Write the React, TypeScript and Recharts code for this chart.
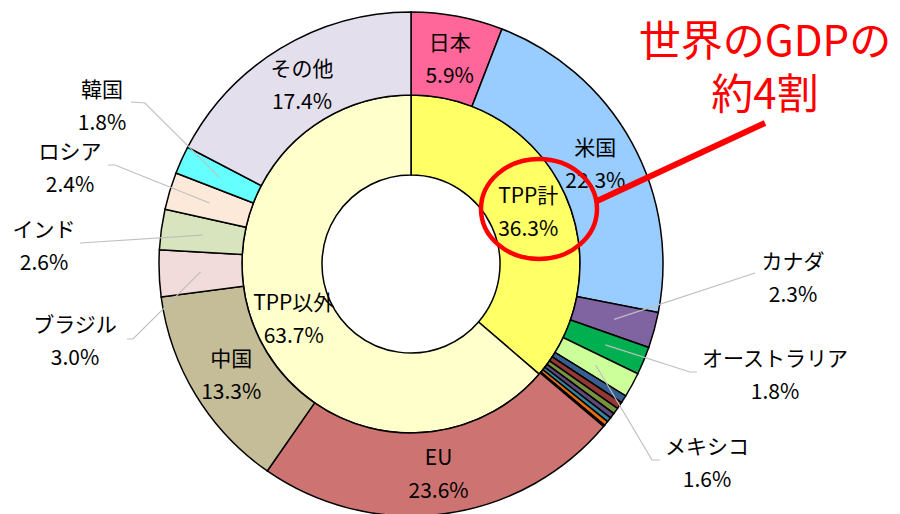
import React from 'react';
import { PieChart, Pie, Cell } from 'recharts';

// ---- data ----
const innerNames = ['TPP計', 'TPP以外'];
const innerValues = [36.3, 63.7];
const innerColors = ['#FFFF66', '#FFFFCC'];

const outerNames = [
  '日本', '米国', 'カナダ', 'オーストラリア', 'メキシコ',
  'マレーシア', 'シンガポール', 'チリ', 'ペルー', 'ニュージーランド', 'ベトナム', 'ブルネイ',
  'EU', '中国', 'ブラジル', 'インド', 'ロシア', '韓国', 'その他',
];
const outerValues = [
  5.9, 22.3, 2.3, 1.8, 1.6,
  0.5, 0.45, 0.4, 0.35, 0.3, 0.3, 0.1,
  23.6, 13.3, 3.0, 2.6, 2.4, 1.8, 17.4,
];
const outerColors = [
  '#FF6699', '#99CCFF', '#8064A2', '#00B050', '#CCFF99',
  '#376092', '#953735', '#77933C', '#604A7B', '#31859C', '#E46C0A', '#7F7F7F',
  '#CD7371', '#C4BD97', '#F2DCDB', '#D7E4BD', '#FDE9D9', '#66FFFF', '#E4DFEC',
];

const insideLabelNames = ['日本', '米国', 'EU', '中国', 'その他'];

const annotationLines = ['世界のGDPの', '約4割'];

// ---- layout (not data) ----
const W = 900;
const H = 514;
const CX = 411;
const CY = 264;
const FONT = "'Noto Sans CJK JP', 'Noto Sans', sans-serif";
const LABEL_SIZE = 21;
const LINE_GAP = 33;

const outsideLabelLayout: Record<string, { pts: [number, number][]; tx: number; ty: number }> = {
  '韓国': { pts: [[145, 103], [131, 102]], tx: 102, ty: 88 },
  'ロシア': { pts: [[115, 165], [108, 165]], tx: 70, ty: 150 },
  'インド': { pts: [[80, 243]], tx: 44, ty: 228 },
  'ブラジル': { pts: [[133, 339], [127, 339]], tx: 75, ty: 323 },
  'カナダ': { pts: [[755, 273]], tx: 793, ty: 260 },
  'オーストラリア': { pts: [[690, 372], [697, 372]], tx: 775, ty: 357 },
  'メキシコ': { pts: [[652, 460], [660, 460]], tx: 707, ty: 445 },
};

const innerData = innerNames.map((name, i) => ({ name, value: innerValues[i] }));
const outerData = outerNames.map((name, i) => ({ name, value: outerValues[i] }));

const RAD = Math.PI / 180;

function TwoLine({ x, y, a, b }: { x: number; y: number; a: string; b: string }) {
  return (
    <g>
      <text x={x} y={y} textAnchor="middle" dominantBaseline="central" fontSize={LABEL_SIZE} fontFamily={FONT} fill="#000">
        {a}
      </text>
      <text x={x} y={y + LINE_GAP} textAnchor="middle" dominantBaseline="central" fontSize={LABEL_SIZE} fontFamily={FONT} fill="#000">
        {b}
      </text>
    </g>
  );
}

function midPoint(props: any) {
  const { cx, cy, midAngle, innerRadius, outerRadius } = props;
  const r = (innerRadius + outerRadius) / 2;
  return [cx + r * Math.cos(-midAngle * RAD), cy + r * Math.sin(-midAngle * RAD)];
}

function renderInnerLabel(props: any) {
  const idx = props.index;
  const [x, y] = midPoint(props);
  return <TwoLine x={x} y={y - LINE_GAP / 2} a={innerNames[idx]} b={`${innerValues[idx].toFixed(1)}%`} />;
}

function renderOuterLabel(props: any) {
  const idx = props.index;
  const name = outerNames[idx];
  const pct = `${outerValues[idx].toFixed(1)}%`;
  const [x, y] = midPoint(props);
  if (insideLabelNames.includes(name)) {
    return <TwoLine x={x} y={y - LINE_GAP / 2} a={name} b={pct} />;
  }
  const lay = outsideLabelLayout[name];
  if (!lay) return <g />;
  const pts = [[x, y], ...lay.pts].map((p) => p.join(',')).join(' ');
  return (
    <g>
      <polyline points={pts} fill="none" stroke="#BFBFBF" strokeWidth={1.2} />
      <TwoLine x={lay.tx} y={lay.ty} a={name} b={pct} />
    </g>
  );
}

export default function App() {
  return (
    <div style={{ position: 'relative', width: W, height: H, overflow: 'hidden', background: '#fff' }}>
      <style>{`body{margin:0;}`}</style>
      <PieChart width={W} height={H} margin={{ top: 0, right: 0, bottom: 0, left: 0 }}>
        <Pie
          data={innerData}
          dataKey="value"
          cx={CX}
          cy={CY}
          innerRadius={89}
          outerRadius={169}
          startAngle={90}
          endAngle={-270}
          stroke="#000"
          strokeWidth={1.5}
          isAnimationActive={false}
          labelLine={false}
          label={renderInnerLabel}
        >
          {innerData.map((d, i) => (
            <Cell key={d.name} fill={innerColors[i]} />
          ))}
        </Pie>
        <Pie
          data={outerData}
          dataKey="value"
          cx={CX}
          cy={CY}
          innerRadius={169}
          outerRadius={252}
          startAngle={90}
          endAngle={-270}
          stroke="#000"
          strokeWidth={1.5}
          isAnimationActive={false}
          labelLine={false}
          label={renderOuterLabel}
        >
          {outerData.map((d, i) => (
            <Cell key={d.name} fill={outerColors[i]} />
          ))}
        </Pie>
      </PieChart>
      <svg width={W} height={H} style={{ position: 'absolute', left: 0, top: 0, pointerEvents: 'none' }}>
        <ellipse cx={539} cy={209} rx={58} ry={50} fill="none" stroke="#FF0000" strokeWidth={4.5} />
        <line x1={597} y1={201} x2={765} y2={123} stroke="#FF0000" strokeWidth={6} />
        <text x={765} y={37} textAnchor="middle" dominantBaseline="central" fontSize={42} fontFamily={FONT} fill="#FF0000">
          {annotationLines[0]}
        </text>
        <text x={765} y={90} textAnchor="middle" dominantBaseline="central" fontSize={42} fontFamily={FONT} fill="#FF0000">
          {annotationLines[1]}
        </text>
      </svg>
    </div>
  );
}
